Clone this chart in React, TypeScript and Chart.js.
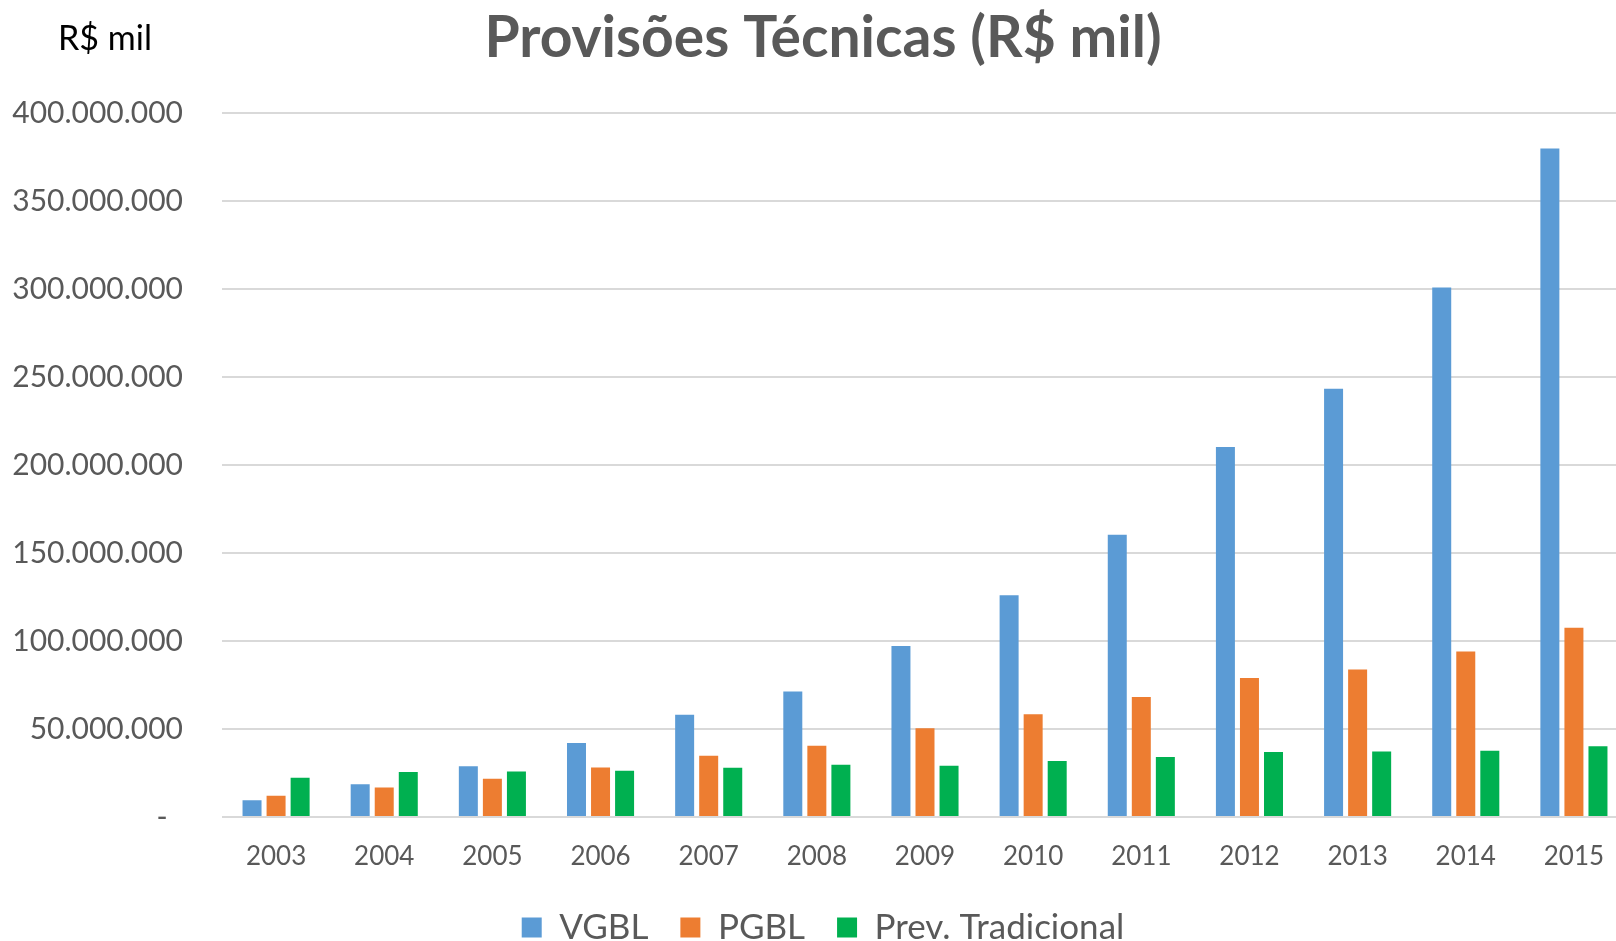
import React, { useEffect, useRef } from "react";
import { Chart, registerables } from "chart.js";

Chart.register(...registerables);

const years = ["2003", "2004", "2005", "2006", "2007", "2008", "2009", "2010", "2011", "2012", "2013", "2014", "2015"];
const vgbl = [9500000, 18600000, 28800000, 42000000, 58200000, 71400000, 97200000, 126000000, 160400000, 210400000, 243500000, 301000000, 380000000];
const pgbl = [12100000, 16700000, 21800000, 28200000, 34800000, 40500000, 50400000, 58400000, 68200000, 79000000, 83800000, 94100000, 107600000];
const prevTradicional = [22300000, 25600000, 25900000, 26300000, 28000000, 29700000, 29200000, 31800000, 34100000, 36900000, 37300000, 37700000, 40200000];
const seriesNames = ["VGBL", "PGBL", "Prev. Tradicional"];
const seriesColors = ["#5B9BD5", "#ED7D31", "#00B050"];
const titleText = "Provisões Técnicas (R$ mil)";
const unitText = "R$ mil";
const yMax = 400000000;
const yStep = 50000000;

const fmt = (v: number) =>
  v === 0 ? "-  " : String(Math.round(v)).replace(/\B(?=(\d{3})+(?!\d))/g, ".");

const unitPlugin = {
  id: "unitLabel",
  afterLayout(chart: any) {
    const y = chart.scales.y;
    if (y) {
      y.left = 0;
    }
  },
  afterDraw(chart: any) {
    const ctx = chart.ctx;
    ctx.save();
    ctx.font = "34px Lato";
    ctx.fillStyle = "#000000";
    ctx.textAlign = "center";
    ctx.textBaseline = "middle";
    ctx.fillText(unitText, 105, 39);
    ctx.restore();
  },
};

export default function App() {
  const ref = useRef<HTMLCanvasElement | null>(null);

  useEffect(() => {
    if (!ref.current) return;
    const chart = new Chart(ref.current, {
      type: "bar",
      data: {
        labels: years,
        datasets: [vgbl, pgbl, prevTradicional].map((d, i) => ({
          label: seriesNames[i],
          data: d,
          backgroundColor: seriesColors[i],
          borderWidth: 0,
          categoryPercentage: 0.667,
          barPercentage: 0.79,
        })),
      },
      options: {
        animation: false,
        responsive: false,
        devicePixelRatio: 1,
        layout: { padding: { left: 18, right: 22, top: 0, bottom: 0 } },
        plugins: {
          title: {
            display: true,
            text: titleText,
            color: "#595959",
            font: { family: "Lato", size: 57, weight: "bold", lineHeight: 1.2 },
            padding: { top: 4, bottom: 41 },
          },
          legend: {
            position: "bottom",
            labels: {
              color: "#595959",
              font: { family: "Lato", size: 35 },
              boxWidth: 20,
              boxHeight: 20,
              padding: 32,
            },
          },
          tooltip: { enabled: false },
        },
        scales: {
          x: {
            grid: { display: false, drawTicks: false },
            border: { display: false },
            ticks: {
              color: "#595959",
              font: { family: "Lato", size: 26 },
              padding: 24,
              maxRotation: 0,
            },
            afterFit: (s: any) => {
              s.height = 61;
            },
          },
          y: {
            min: 0,
            max: yMax,
            grid: { color: "#D9D9D9", lineWidth: 2, drawTicks: false },
            border: { display: false },
            ticks: {
              stepSize: yStep,
              color: "#595959",
              font: { family: "Lato", size: 30 },
              padding: 39,
              callback: (v: any) => fmt(Number(v)),
            },
            afterFit: (s: any) => {
              s.width = 204;
            },
          },
        },
      },
      plugins: [unitPlugin],
    });
    return () => chart.destroy();
  }, []);

  return (
    <div
      style={{
        position: "fixed",
        left: 0,
        top: 0,
        width: 1616,
        height: 941,
        overflow: "hidden",
        background: "#ffffff",
      }}
    >
      <canvas ref={ref} width={1650} height={955} style={{ width: 1650, height: 955, display: "block" }} />
    </div>
  );
}
